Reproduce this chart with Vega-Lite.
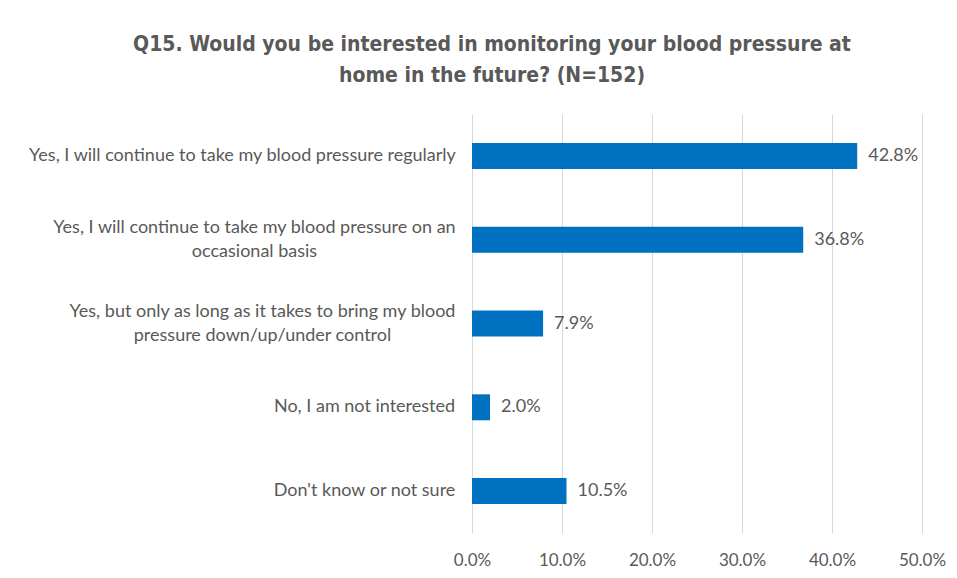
{
  "$schema": "https://vega.github.io/schema/vega-lite/v6.json",
  "width": 450,
  "height": 419,
  "autosize": {"type": "none"},
  "padding": {"left": 472, "top": 114, "right": 35, "bottom": 45},
  "background": "white",
  "title": {
    "text": ["Q15. Would you be interested in monitoring your blood pressure at", "home in the future? (N=152)"],
    "font": "DejaVu Sans Condensed",
    "fontSize": 21,
    "fontWeight": "bold",
    "color": "#595959",
    "lineHeight": 31,
    "anchor": "middle",
    "dx": -205,
    "offset": 28
  },
  "data": {
    "values": [
      {"answer": "Yes, I will continue to take my blood pressure regularly", "pct": 0.428, "order": 1},
      {"answer": "Yes, I will continue to take my blood pressure on an|occasional basis", "pct": 0.368, "order": 2},
      {"answer": "Yes, but only as long as it takes to bring my blood|pressure down/up/under control", "pct": 0.079, "order": 3},
      {"answer": "No, I am not interested", "pct": 0.02, "order": 4},
      {"answer": "Don't know or not sure", "pct": 0.105, "order": 5}
    ]
  },
  "encoding": {
    "y": {
      "field": "answer",
      "type": "nominal",
      "sort": {"field": "order", "op": "min"},
      "scale": {"paddingInner": 0.69, "paddingOuter": 0.345},
      "axis": {
        "title": null,
        "domain": false,
        "ticks": false,
        "labelFont": "Lato",
        "labelFontSize": 18,
        "labelColor": "#595959",
        "labelLimit": 600,
        "labelAlign": "center",
        "labelLineHeight": 24,
        "labelExpr": "split(datum.label, '|')",
        "labelOffset": {
          "condition": {"test": "test(regexp('occasional|Yes, but'), datum.value)", "value": -12},
          "value": 0
        },
        "labelPadding": {
          "condition": [
            {"test": "test(regexp('regularly'), datum.value)", "value": 230},
            {"test": "test(regexp('occasional'), datum.value)", "value": 218},
            {"test": "test(regexp('Yes, but'), datum.value)", "value": 210}
          ],
          "value": 108
        }
      }
    },
    "x": {
      "field": "pct",
      "type": "quantitative",
      "scale": {"domain": [0, 0.5]},
      "axis": {
        "title": null,
        "format": ".1%",
        "values": [0, 0.1, 0.2, 0.3, 0.4, 0.5],
        "domain": false,
        "ticks": false,
        "grid": true,
        "gridColor": "#d9d9d9",
        "gridWidth": 1,
        "labelOverlap": false,
        "labelFlush": false,
        "labelPadding": 19,
        "labelFont": "Lato",
        "labelFontSize": 17,
        "labelColor": "#595959"
      }
    }
  },
  "layer": [
    {"mark": {"type": "bar", "color": "#0070c0"}},
    {
      "mark": {"type": "text", "align": "left", "dx": 11, "font": "Lato", "fontSize": 18, "color": "#595959"},
      "encoding": {"text": {"field": "pct", "type": "quantitative", "format": ".1%"}}
    }
  ],
  "config": {"view": {"stroke": null}}
}
